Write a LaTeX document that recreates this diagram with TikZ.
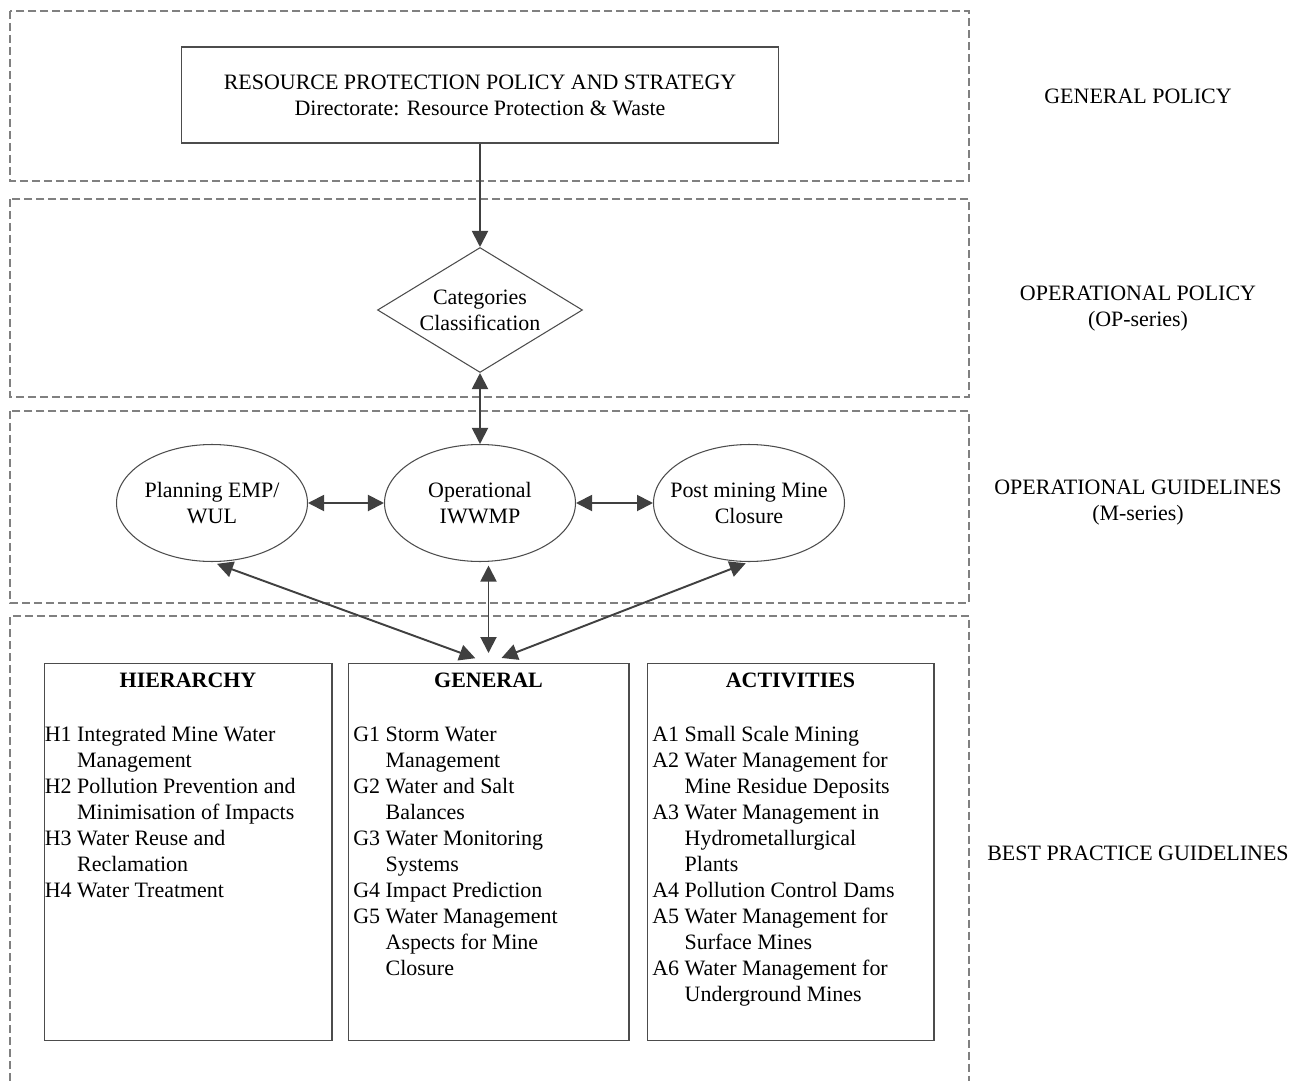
\documentclass[tikz,border=0pt]{standalone}
\usepackage{fontspec}
\setmainfont{Liberation Serif}
\usetikzlibrary{positioning,shapes.geometric,arrows.meta}
\begin{document}
\begin{tikzpicture}[x=0.02cm,y=-0.02cm,font=\fontsize{12.5}{14.8}\selectfont,
>={Triangle[length=0.32cm,width=0.32cm]}]
\tikzset{base/.style={draw=black!70,line width=0.6pt},
box/.style={base,rectangle,inner sep=0pt},
ell/.style={base,ellipse,minimum width=3.82cm,minimum height=2.34cm},
dia/.style={base,diamond,minimum width=4.1cm,minimum height=2.5cm,inner sep=0pt},
band/.style={draw=black!50,line width=0.6pt,dash pattern=on 0.16cm off 0.08cm},
ttl/.style={font=\fontsize{12.5}{14.8}\selectfont\bfseries},
lst/.style={inner sep=0pt,align=left},
side/.style={align=center},
lnk/.style={draw=black!75,line width=1.1pt}}
\useasboundingbox (0,0) rectangle (1298,1081);
\draw[band] (10,11) rectangle (969,181);
\draw[band] (10,199) rectangle (969,397);
\draw[band] (10,411) rectangle (969,603);
\draw[band] (10,1081) |- (969,616) -- (969,1081);
\node[box,minimum width=11.96cm,minimum height=1.92cm,align=center] (rpp) at (480,95)
  {RESOURCE PROTECTION POLICY AND STRATEGY\\Directorate: Resource Protection \& Waste};
\node[dia,label={[align=center]center:Categories\\Classification}] (cat) at (480,310) {};
\node[ell,label={[align=center]center:Planning EMP/\\WUL}] (plan) at (212,503) {};
\node[ell,label={[align=center]center:Operational\\IWWMP}] (oper) at (480,503) {};
\node[ell,label={[align=center]center:Post mining Mine\\Closure}] (post) at (749,503) {};
\node[box,minimum width=5.76cm,minimum height=7.54cm] (hier) at (188,852) {};
\node[box,minimum width=5.62cm,minimum height=7.54cm] (gen) at (488.5,852) {};
\node[box,minimum width=5.74cm,minimum height=7.54cm] (act) at (790.5,852) {};
\node[ttl,below=0.08cm of hier.north] (hierT) {HIERARCHY};
\node[ttl,below=0.08cm of gen.north] (genT) {GENERAL};
\node[ttl,below=0.08cm of act.north] (actT) {ACTIVITIES};
\node[lst,below right=1.2cm and 0.02cm of hier.north west] (hierL) {\begin{tabular}{@{}l@{ }l@{}}
H1&Integrated Mine Water\\&Management\\
H2&Pollution Prevention and\\&Minimisation of Impacts\\
H3&Water Reuse and\\&Reclamation\\
H4&Water Treatment\end{tabular}};
\node[lst,below right=1.2cm and 0.11cm of gen.north west] (genL) {\begin{tabular}{@{}l@{ }l@{}}
G1&Storm Water\\&Management\\
G2&Water and Salt\\&Balances\\
G3&Water Monitoring\\&Systems\\
G4&Impact Prediction\\
G5&Water Management\\&Aspects for Mine\\&Closure\end{tabular}};
\node[lst,below right=1.2cm and 0.11cm of act.north west] (actL) {\begin{tabular}{@{}l@{ }l@{}}
A1&Small Scale Mining\\
A2&Water Management for\\&Mine Residue Deposits\\
A3&Water Management in\\&Hydrometallurgical\\&Plants\\
A4&Pollution Control Dams\\
A5&Water Management for\\&Surface Mines\\
A6&Water Management for\\&Underground Mines\end{tabular}};
\node[side] (gpol) at (1138,96) {GENERAL POLICY};
\node[side] (opol) at (1138,309) {OPERATIONAL POLICY\\(OP-series)};
\node[side] (ogui) at (1138,503) {OPERATIONAL GUIDELINES\\(M-series)};
\node[side] (bpg) at (1138,853) {BEST PRACTICE GUIDELINES};
\path[lnk,->] (rpp.south) -- (cat.north);
\path[lnk,<->] (cat.south) -- (oper.north);
\path[lnk,<->] (plan) -- (oper);
\path[lnk,<->] (oper) -- (post);
\path[lnk,<->,shorten <=3pt,shorten >=0.28cm] (plan.south) -- (gen.north);
\path[lnk,<->,shorten <=2pt,shorten >=0.2cm] (oper.south -| gen.north) -- (gen.north);
\path[lnk,<->,shorten <=2pt,shorten >=0.28cm] (post.south) -- (gen.north);
\end{tikzpicture}
\end{document}
